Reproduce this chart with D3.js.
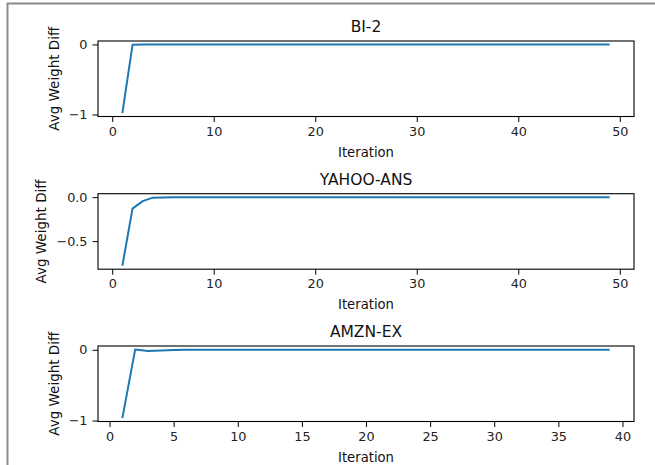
<!DOCTYPE html>
<html lang="en">

<head>
  <meta charset="UTF-8">
  <title>avg-weight-diff</title>
  <script src="https://cdn.jsdelivr.net/npm/d3@7"></script>
  <style type="text/css">
    html,
    body {
      margin: 0;
      background: #fff;
    }

    svg {
      display: block;
      font-family: "DejaVu Sans", sans-serif;
    }

    .domain,
    .tick line {
      stroke: #000;
    }

    .tick text {
      fill: #222;
    }
  </style>
</head>

<body>
  <script>
    var titles = ['BI-2', 'YAHOO-ANS', 'AMZN-EX'];

    var bi2Values = [
      -0.98, -0.005, 0, 0, 0, 0, 0, 0, 0, 0,
      0, 0, 0, 0, 0, 0, 0, 0, 0, 0,
      0, 0, 0, 0, 0, 0, 0, 0, 0, 0,
      0, 0, 0, 0, 0, 0, 0, 0, 0, 0,
      0, 0, 0, 0, 0, 0, 0, 0, 0
    ];
    var yahooValues = [
      -0.78, -0.13, -0.045, -0.006, -0.004, -0.002, -0.001, 0, 0, 0,
      0, 0, 0, 0, 0, 0, 0, 0, 0, 0,
      0, 0, 0, 0, 0, 0, 0, 0, 0, 0,
      0, 0, 0, 0, 0, 0, 0, 0, 0, 0,
      0, 0, 0, 0, 0, 0, 0, 0, 0
    ];
    var amznValues = [
      -0.965, 0.005, -0.018, -0.01, -0.002, 0, 0, 0, 0, 0,
      0, 0, 0, 0, 0, 0, 0, 0, 0, 0,
      0, 0, 0, 0, 0, 0, 0, 0, 0, 0,
      0, 0, 0, 0, 0, 0, 0, 0, 0
    ];

    var xTicksLong = [0, 10, 20, 30, 40, 50];
    var xTicksShort = [0, 5, 10, 15, 20, 25, 30, 35, 40];
    var yTicksBi2 = [-1, 0];
    var yTicksYahoo = [-0.5, 0];
    var yTicksAmzn = [-1, 0];
    var yFormats = ['.0f', '.1f', '.0f'];

    var series = [bi2Values, yahooValues, amznValues];
    var xTickSets = [xTicksLong, xTicksLong, xTicksShort];
    var yTickSets = [yTicksBi2, yTicksYahoo, yTicksAmzn];

    var w = 655;
    var h = 465;
    var left = 98;
    var right = 634;
    var tops = [41, 193.7, 346];
    var panelH = 75.5;

    var svg = d3.select('body')
      .append('svg')
      .attr('width', w)
      .attr('height', h);

    // grey frame around the figure (cropped screenshot edge)
    svg.append('path')
      .attr('d', 'M7.5,' + h + 'V3.5H' + w)
      .attr('fill', 'none')
      .attr('stroke', '#8a8a8a')
      .attr('stroke-width', 2);

    // matplotlib style: pad the data range by 5% each side
    function padded(ext) {
      var r = ext[1] - ext[0];
      return [ext[0] - r * 0.05, ext[1] + r * 0.05];
    }

    var minus = function (s) {
      return s.replace('-', '\u2212');
    };

    function styleAxis(a) {
      a.select('.domain').remove();
      a.attr('font-size', 12.8)
        .attr('font-family', '"DejaVu Sans", sans-serif');
    }

    series.forEach(function (vals, i) {
      var top = tops[i];
      var bottom = top + panelH;
      var pts = vals.map(function (v, k) {
        return { it: k + 1, v: v };
      });

      var x = d3.scaleLinear()
        .domain(padded([1, vals.length]))
        .range([left, right]);
      var y = d3.scaleLinear()
        .domain(padded(d3.extent(vals)))
        .range([bottom, top]);

      var g = svg.append('g');

      g.append('g')
        .attr('transform', 'translate(0,' + bottom + ')')
        .call(d3.axisBottom(x).tickValues(xTickSets[i]).tickSize(5.5).tickPadding(4.5)
          .tickFormat(d3.format('d')))
        .call(styleAxis);

      var fmt = d3.format(yFormats[i]);
      var yAxis = g.append('g')
        .attr('transform', 'translate(' + left + ',0)')
        .call(d3.axisLeft(y).tickValues(yTickSets[i]).tickSize(5.5).tickPadding(5)
          .tickFormat(function (d) { return minus(fmt(d)); }))
        .call(styleAxis);

      var line = d3.line()
        .x(function (d) { return x(d.it); })
        .y(function (d) { return y(d.v); });

      g.append('path')
        .datum(pts)
        .attr('d', line)
        .attr('fill', 'none')
        .attr('stroke', '#1f77b4')
        .attr('stroke-width', 2)
        .attr('stroke-linejoin', 'round');

      g.append('rect')
        .attr('x', left)
        .attr('y', top)
        .attr('width', right - left)
        .attr('height', panelH)
        .attr('fill', 'none')
        .attr('stroke', '#000')
        .attr('stroke-width', 1.1);

      g.append('text')
        .attr('x', (left + right) / 2)
        .attr('y', top - 9)
        .attr('text-anchor', 'middle')
        .attr('font-size', 15.5)
        .attr('fill', '#111')
        .text(titles[i]);

      g.append('text')
        .attr('x', (left + right) / 2)
        .attr('y', bottom + 40)
        .attr('text-anchor', 'middle')
        .attr('font-size', 13.2)
        .attr('fill', '#111')
        .text('Iteration');

      // y label sits just left of the widest tick label, like matplotlib
      var bb = yAxis.node().getBBox();
      var labelX = left + bb.x - 10;

      g.append('text')
        .attr('transform', 'translate(' + labelX + ',' + (top + panelH / 2) + ') rotate(-90)')
        .attr('text-anchor', 'middle')
        .attr('font-size', 13.5)
        .attr('fill', '#111')
        .text('Avg Weight Diff');
    });
  </script>
</body>

</html>
